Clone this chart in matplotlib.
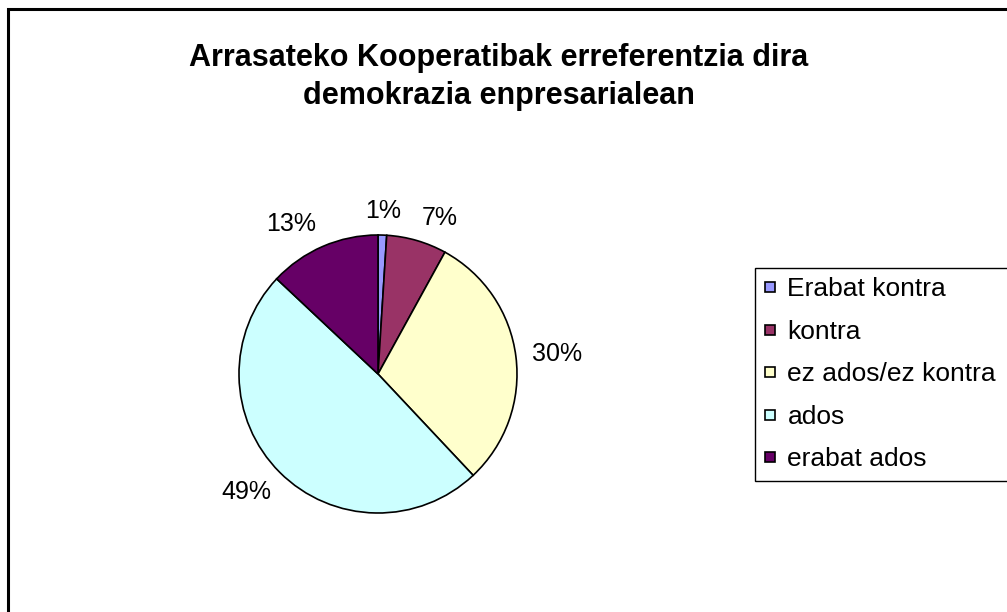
import numpy as np
import matplotlib.pyplot as plt
from matplotlib.patches import Rectangle
from matplotlib.legend_handler import HandlerPatch

plt.rcParams['font.family'] = ['Liberation Sans', 'DejaVu Sans']

# Datuak
categories = ['Erabat kontra', 'kontra', 'ez ados/ez kontra', 'ados', 'erabat ados']
values = [1, 7, 30, 49, 13]
colors = ['#9999FF', '#993366', '#FFFFCC', '#CCFFFF', '#660066']
title = 'Arrasateko Kooperatibak erreferentzia dira\ndemokrazia enpresarialean'

W, H = 1007, 612
fig = plt.figure(figsize=(W / 100, H / 100), dpi=100)

# kanpoko markoa (eskuinean eta behean mozten da)
fig.patches.append(Rectangle((8 / W, -0.1), 1.1, 1 - 9 / H + 0.1,
                             transform=fig.transFigure, fill=False,
                             edgecolor='black', linewidth=2.2, clip_on=False))

# tarta: zentroa (378, 374) px, erradioa 139 px
cx, cy, r = 378, 374, 139
ax = fig.add_axes([(cx - r) / W, (H - cy - r) / H, 2 * r / W, 2 * r / H])
wedges, _ = ax.pie(values, colors=colors, startangle=90, counterclock=False,
                   wedgeprops=dict(edgecolor='black', linewidth=1.2))
ax.set_xlim(-1, 1)
ax.set_ylim(-1, 1)

# portzentaje etiketak, Excel bezala: ertzik hurbilena tartatik kanpo
for w, v in zip(wedges, values):
    ang = np.deg2rad((w.theta1 + w.theta2) / 2)
    c, s = np.cos(ang), np.sin(ang)
    ha = 'left' if c > 0.2 else ('right' if c < -0.2 else 'center')
    va = 'baseline' if s > 0.2 else ('top' if s < -0.2 else 'center')
    d = 1.12 if s > -0.2 else 1.08
    ax.text(d * c, d * s, f'{v}%', ha=ha, va=va, fontsize=18)

fig.text(499 / W, 1 - 77 / H, title, ha='center', va='center', fontsize=22,
         fontweight='bold', linespacing=1.35)


def square(legend, orig_handle, xdescent, ydescent, width, height, fontsize):
    return Rectangle((-xdescent, -ydescent + (height - width) / 2), width, width)


leg = fig.legend(wedges, categories, loc='upper left',
                 bbox_to_anchor=(755 / W, 1 - 268 / H - 0.6, 0.4, 0.6),
                 mode='expand', fontsize=19, frameon=True, fancybox=False,
                 edgecolor='black', framealpha=1, borderpad=0.36,
                 handlelength=0.38, handleheight=0.7, handletextpad=0.49,
                 labelspacing=0.7, borderaxespad=0,
                 handler_map={w: HandlerPatch(patch_func=square) for w in wedges})
leg.get_frame().set_linewidth(1.0)

fig.savefig('out.png', dpi=100, facecolor='white')
